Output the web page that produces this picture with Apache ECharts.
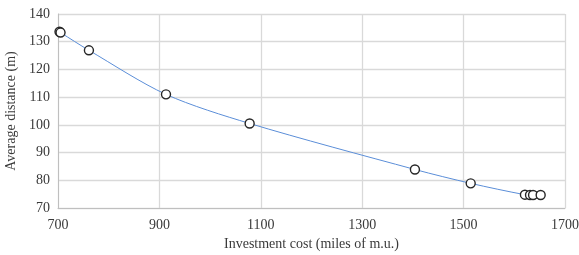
<!DOCTYPE html>
<html>
<head>
<meta charset="utf-8">
<script src="https://cdn.jsdelivr.net/npm/echarts@6/dist/echarts.min.js"></script>
<style>
  html, body { margin: 0; padding: 0; background: #fff; }
  #app { width: 579px; height: 255px; }
</style>
</head>
<body>
<div id="app"></div>
<script>
// investment cost (miles of m.u.)
const cost = [703, 705, 761, 913, 1078, 1404, 1514, 1621, 1631, 1637, 1652];
// average distance (m)
const distance = [133.6, 133.3, 126.9, 111.0, 100.5, 83.9, 78.9, 74.8, 74.7, 74.7, 74.7];

const points = cost.map((c, i) => [c, distance[i]]);

const font = "Liberation Serif";
const textColor = "#3a3a3a";
const myChart = echarts.init(document.getElementById("app"));
const option = {
  animation: false,
  grid: { left: 58, right: 14, top: 14, bottom: 47, outerBoundsMode: "none", containLabel: false },
  xAxis: {
    type: "value",
    min: 700,
    max: 1700,
    interval: 200,
    name: "Investment cost (miles of m.u.)",
    nameLocation: "middle",
    nameGap: 29,
    nameTextStyle: { fontFamily: font, fontSize: 14, color: textColor },
    axisLine: { lineStyle: { color: "#bfbfbf", width: 1 } },
    axisTick: { show: false },
    axisLabel: {
      fontFamily: font, fontSize: 14, color: textColor, margin: 10,
      formatter: v => String(v)
    },
    splitLine: { show: true, lineStyle: { color: "#d9d9d9", width: 1.3 } }
  },
  yAxis: {
    type: "value",
    min: 70,
    max: 140,
    interval: 10,
    name: "Average distance (m)",
    nameLocation: "middle",
    nameGap: 38,
    nameTextStyle: { fontFamily: font, fontSize: 14, color: textColor },
    axisLine: { show: true, lineStyle: { color: "#bfbfbf", width: 1 } },
    axisTick: { show: false },
    axisLabel: { fontFamily: font, fontSize: 14, color: textColor, margin: 8 },
    splitLine: { show: true, lineStyle: { color: "#d9d9d9", width: 1.3 } }
  },
  series: [
    {
      type: "line",
      data: points,
      smooth: 0.3,
      symbol: "circle",
      symbolSize: 9,
      lineStyle: { color: "#5b8ed8", width: 1 },
      itemStyle: { color: "#fff", borderColor: "#262626", borderWidth: 1.4 },
      z: 3
    }
  ]
};
myChart.setOption(option);
</script>
</body>
</html>
